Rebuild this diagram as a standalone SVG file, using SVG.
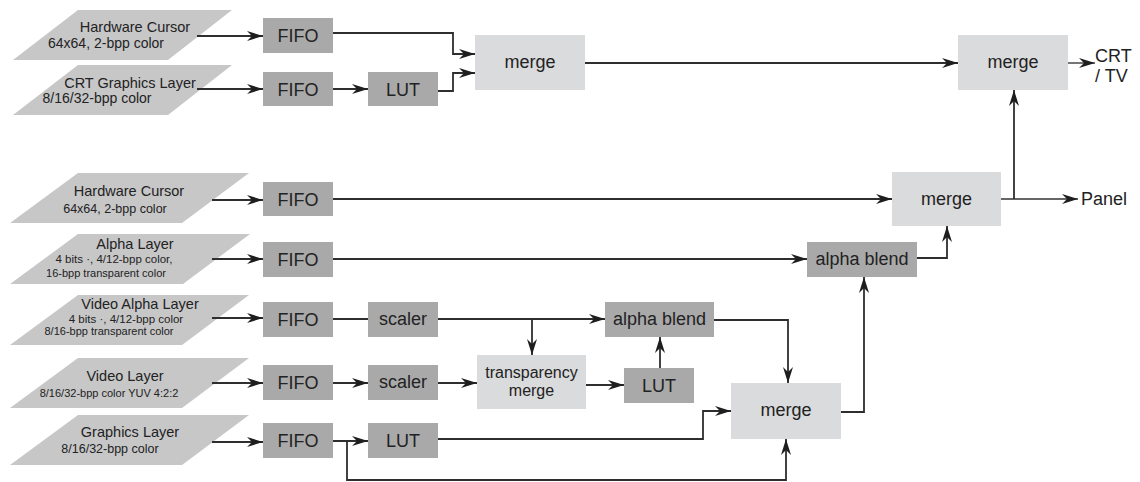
<svg xmlns="http://www.w3.org/2000/svg" width="1140" height="482" viewBox="0 0 1140 482">
  <style>
    .src { fill: #c7c7c8; }
    .blk { fill: #a9a9aa; }
    .mrg { fill: #dadbdd; }
    text { font-family: "Liberation Sans", Arial, sans-serif; fill: #222; }
    .lbl { font-size: 18px; text-anchor: middle; }
    .ttl { font-size: 14.5px; text-anchor: middle; }
    .sub { font-size: 14px; text-anchor: middle; }
    .sm { font-size: 11.5px; text-anchor: middle; }
    .out { font-size: 18px; }
    .wire { fill: none; stroke: #2e2e2e; stroke-width: 1.8; }
    .arr { marker-end: url(#head); }
  </style>
  <defs>
    <marker id="head" markerUnits="userSpaceOnUse" viewBox="0 0 16 10" markerWidth="16" markerHeight="10" refX="16" refY="5" orient="auto">
      <path d="M0,0 L16,5 L0,10 L5,5 Z" fill="#1e1e1e"/>
    </marker>
  </defs>

  <!-- input layers -->
  <g id="src-hwcursor-crt">
    <polygon class="src" points="78,10 232,10 168,60 13,60"/>
    <text class="ttl" x="135" y="32">Hardware Cursor</text>
    <text class="sub" x="106" y="48">64x64, 2-bpp color</text>
  </g>
  <g id="src-crt-graphics">
    <polygon class="src" points="78,65 232,65 168,115 13,115"/>
    <text class="ttl" x="130" y="88">CRT Graphics Layer</text>
    <text class="sub" x="97" y="103">8/16/32-bpp color</text>
  </g>
  <g id="src-hwcursor-panel">
    <polygon class="src" points="78,173 249,173 182,223 10,223"/>
    <text class="ttl" x="129" y="196">Hardware Cursor</text>
    <text class="sub" x="115" y="213" style="font-size:12.5px">64x64, 2-bpp color</text>
  </g>
  <g id="src-alpha">
    <polygon class="src" points="78,234 250,234 183,284 10,284"/>
    <text class="ttl" x="135" y="249">Alpha Layer</text>
    <text class="sm" x="114" y="263">4 bits ·, 4/12-bpp color,</text>
    <text class="sm" x="106" y="277" style="font-size:11px">16-bpp transparent color</text>
  </g>
  <g id="src-video-alpha">
    <polygon class="src" points="78,295 249,295 182,345 10,345"/>
    <text class="ttl" x="140" y="309">Video Alpha Layer</text>
    <text class="sm" x="126" y="323">4 bits ·, 4/12-bpp color</text>
    <text class="sm" x="109" y="335" style="font-size:11px">8/16-bpp transparent color</text>
  </g>
  <g id="src-video">
    <polygon class="src" points="78,358 249,358 182,408 10,408"/>
    <text class="ttl" x="125" y="381">Video Layer</text>
    <text class="sm" x="109" y="397" style="font-size:11px">8/16/32-bpp color YUV 4:2:2</text>
  </g>
  <g id="src-graphics">
    <polygon class="src" points="78,415 249,415 182,465 10,465"/>
    <text class="ttl" x="130" y="437">Graphics Layer</text>
    <text class="sub" x="110" y="453" style="font-size:12.5px">8/16/32-bpp color</text>
  </g>

  <!-- processing blocks -->
  <g id="fifo1"><rect class="blk" x="263" y="18" width="70" height="35"/><text class="lbl" x="298" y="42">FIFO</text></g>
  <g id="fifo2"><rect class="blk" x="263" y="72" width="70" height="34"/><text class="lbl" x="298" y="95.5">FIFO</text></g>
  <g id="lut1"><rect class="blk" x="368" y="72" width="70" height="34"/><text class="lbl" x="403" y="95.5">LUT</text></g>
  <g id="merge1"><rect class="mrg" x="475" y="35" width="110" height="55"/><text class="lbl" x="530" y="68">merge</text></g>
  <g id="merge4"><rect class="mrg" x="958" y="35" width="110" height="55"/><text class="lbl" x="1013" y="68">merge</text></g>

  <g id="fifo3"><rect class="blk" x="263" y="182" width="70" height="34"/><text class="lbl" x="298" y="205.5">FIFO</text></g>
  <g id="merge2"><rect class="mrg" x="892" y="172" width="109" height="54"/><text class="lbl" x="946.5" y="205">merge</text></g>

  <g id="fifo4"><rect class="blk" x="263" y="242" width="70" height="35"/><text class="lbl" x="298" y="266">FIFO</text></g>
  <g id="alphablend2"><rect class="blk" x="807" y="242" width="110" height="35"/><text class="lbl" x="862" y="265">alpha blend</text></g>

  <g id="fifo5"><rect class="blk" x="263" y="302" width="70" height="35"/><text class="lbl" x="298" y="326">FIFO</text></g>
  <g id="scaler1"><rect class="blk" x="368" y="302" width="70" height="35"/><text class="lbl" x="403" y="325">scaler</text></g>
  <g id="alphablend1"><rect class="blk" x="605" y="302" width="109" height="35"/><text class="lbl" x="659.5" y="325">alpha blend</text></g>

  <g id="fifo6"><rect class="blk" x="263" y="365" width="70" height="35"/><text class="lbl" x="298" y="389">FIFO</text></g>
  <g id="scaler2"><rect class="blk" x="368" y="365" width="70" height="35"/><text class="lbl" x="403" y="388">scaler</text></g>
  <g id="transparency-merge"><rect class="mrg" x="477" y="355" width="109" height="54"/><text class="lbl" x="531.5" y="378" style="font-size:16px">transparency</text><text class="lbl" x="531.5" y="396" style="font-size:16px">merge</text></g>
  <g id="lut2"><rect class="blk" x="624" y="368" width="70" height="35"/><text class="lbl" x="659" y="392">LUT</text></g>
  <g id="merge3"><rect class="mrg" x="731" y="383" width="110" height="56"/><text class="lbl" x="786" y="416">merge</text></g>

  <g id="fifo7"><rect class="blk" x="263" y="423" width="70" height="35"/><text class="lbl" x="298" y="447">FIFO</text></g>
  <g id="lut3"><rect class="blk" x="368" y="423" width="70" height="35"/><text class="lbl" x="403" y="447">LUT</text></g>

  <!-- outputs -->
  <g id="out-crt">
    <text class="out" x="1095" y="62">CRT</text>
    <text class="out" x="1095" y="82">/ TV</text>
  </g>
  <g id="out-panel">
    <text class="out" x="1081" y="205">Panel</text>
  </g>

  <!-- connectors -->
  <g id="connectors">
    <path class="wire arr" d="M197,36 H263"/>
    <path class="wire arr" d="M197,89 H263"/>
    <path class="wire arr" d="M333,89 H368"/>
    <path class="wire arr" d="M333,33 H453 V54 H475"/>
    <path class="wire arr" d="M438,91 H453 V73 H475"/>
    <path class="wire arr" d="M585,63 H958"/>
    <path class="wire arr" d="M1068,63 H1095" style="stroke:#666"/>

    <path class="wire arr" d="M212,200 H263"/>
    <path class="wire arr" d="M333,199 H892"/>
    <path class="wire arr" d="M1001,199 H1078" style="stroke:#666"/>
    <path class="wire arr" d="M1014,199 V90"/>

    <path class="wire arr" d="M212,259 H263"/>
    <path class="wire arr" d="M333,259 H807"/>
    <path class="wire arr" d="M917,258 H947 V226"/>

    <path class="wire arr" d="M212,318 H263"/>
    <path class="wire" d="M333,319 H368"/>
    <path class="wire arr" d="M438,319 H605"/>
    <path class="wire arr" d="M532,319 V355"/>

    <path class="wire arr" d="M212,383 H263"/>
    <path class="wire arr" d="M333,383 H368"/>
    <path class="wire arr" d="M438,383 H477"/>
    <path class="wire arr" d="M586,385 H624"/>
    <path class="wire arr" d="M660,368 V337"/>
    <path class="wire arr" d="M714,320 H788 V383"/>

    <path class="wire arr" d="M212,442 H263"/>
    <path class="wire arr" d="M333,441 H368"/>
    <path class="wire arr" d="M347,441 V480 H786 V439"/>
    <path class="wire arr" d="M438,439 H703 V411 H731"/>
    <path class="wire arr" d="M841,412 H864 V277"/>
  </g>
</svg>
